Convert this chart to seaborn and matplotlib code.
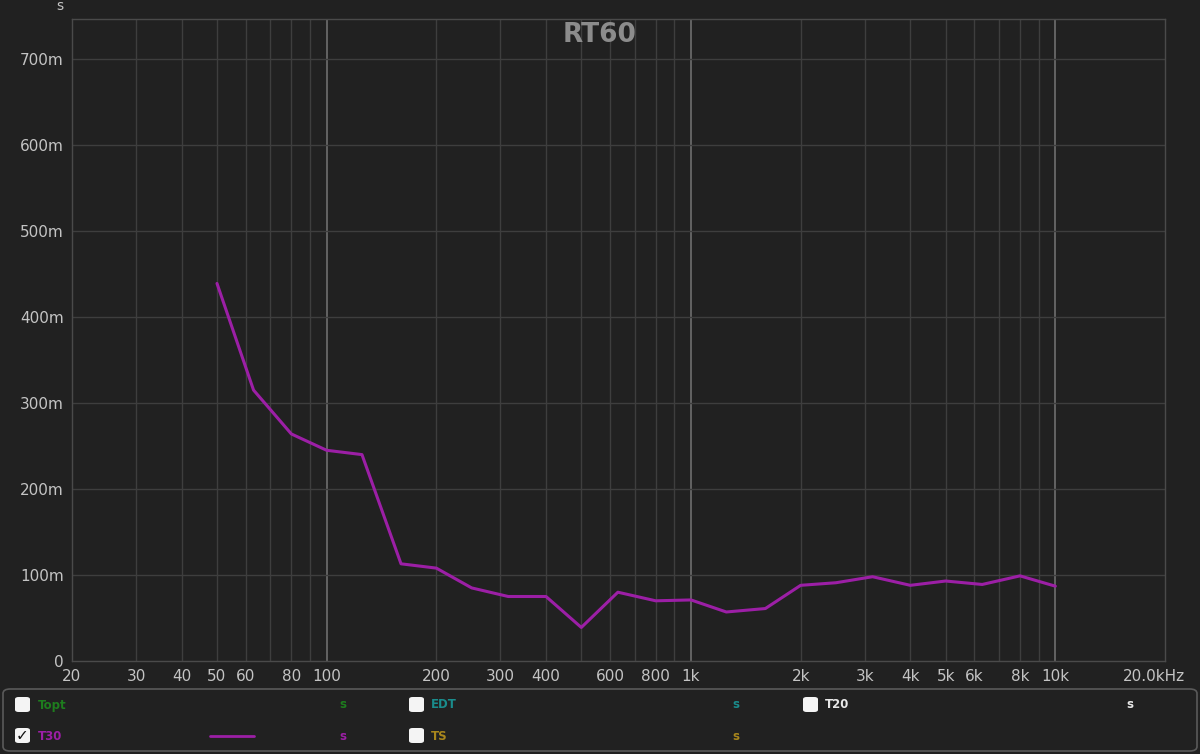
import numpy as np
import pandas as pd
import seaborn as sns
import matplotlib.pyplot as plt
import matplotlib.transforms as mtransforms
from matplotlib.patches import FancyBboxPatch
from matplotlib.lines import Line2D

# 1/3 octave bands and T30 (seconds)
freqs = [50, 63, 80, 100, 125, 160, 200, 250, 315, 400, 500, 630, 800,
         1000, 1250, 1600, 2000, 2500, 3150, 4000, 5000, 6300, 8000, 10000]
t30 = [0.439, 0.315, 0.264, 0.245, 0.240, 0.113, 0.108, 0.085, 0.075, 0.075,
       0.039, 0.080, 0.070, 0.071, 0.057, 0.061, 0.088, 0.091, 0.098, 0.088,
       0.093, 0.089, 0.099, 0.087]

x_ticks = [20, 30, 40, 50, 60, 80, 100, 200, 300, 400, 600, 800,
           1000, 2000, 3000, 4000, 5000, 6000, 8000, 10000, 20000]
x_labels = ["20", "30", "40", "50", "60", "80", "100", "200", "300", "400", "600", "800",
            "1k", "2k", "3k", "4k", "5k", "6k", "8k", "10k", "20.0kHz"]
y_ticks = [0, 0.1, 0.2, 0.3, 0.4, 0.5, 0.6, 0.7]
y_labels = ["0", "100m", "200m", "300m", "400m", "500m", "600m", "700m"]

# legend rows: (name, colour, checked)
legend_items = [("Topt", "#1e7d1e", False), ("EDT", "#1a8c8c", False), ("T20", "#e8e8e8", False),
                ("T30", "#9c1fa6", True), ("TS", "#a8861c", False)]

bg = "#212121"
grid_c = "#3e3e3e"
major_c = "#6e6e6e"
text_c = "#c4c4c4"
line_c = "#9c1fa6"

sns.set_theme(style="dark")
plt.rcParams["font.family"] = ["DejaVu Sans"]

fig = plt.figure(figsize=(12, 7.54), dpi=100, facecolor=bg)
ax = fig.add_axes([72 / 1200, 1 - 661 / 754, (1165 - 72) / 1200, (661 - 19) / 754])
ax.set_facecolor(bg)
ax.set_xscale("log")

df = pd.DataFrame({"freq": freqs, "t30": t30})
sns.lineplot(data=df, x="freq", y="t30", ax=ax, color=line_c, linewidth=2.2)

ax.set_xlim(20, 20000)
ax.set_ylim(0, 0.7465)

# grid: minor lines everywhere, brighter at decades
minor = [m * d for d in (10, 100, 1000) for m in range(2, 10) if 20 <= m * d <= 20000 and m * d != 20]
for f in minor:
    ax.axvline(f, color=grid_c, lw=1.0, zorder=0)
for f in (100, 1000, 10000):
    ax.axvline(f, color=major_c, lw=1.2, zorder=0)
for y in y_ticks[1:]:
    ax.axhline(y, color=grid_c, lw=1.0, zorder=0)

ax.set_xticks(x_ticks)
ax.set_xticklabels(x_labels)
ax.set_yticks(y_ticks)
ax.set_yticklabels(y_labels)
ax.minorticks_off()
ax.tick_params(axis="both", length=0, colors=text_c, labelsize=11)
ax.tick_params(axis="x", pad=6)
ax.tick_params(axis="y", pad=6)
ax.set_xlabel("")
ax.set_ylabel("")
for s in ax.spines.values():
    s.set_visible(True)
    s.set_color("#4a4a4a")
    s.set_linewidth(1.0)

# last x label sits a bit left of its tick so it stays in the figure
last = ax.get_xticklabels()[-1]
last.set_transform(last.get_transform() + mtransforms.ScaledTranslation(-0.11, 0, fig.dpi_scale_trans))


def fx(px):
    return px / 1200


def fy(py):
    return 1 - py / 754


fig.text(fx(600), fy(35), "RT60", ha="center", va="center",
         fontsize=19, fontweight="bold", color="#8c8c8c")
fig.text(fx(60), fy(6), "s", ha="center", va="center", fontsize=10, color=text_c)

# legend panel at the bottom
panel = FancyBboxPatch((fx(3), fy(751)), fx(1194), (751 - 689) / 754,
                       boxstyle="round,pad=0,rounding_size=0.006",
                       transform=fig.transFigure, facecolor=bg, edgecolor="#5a5a5a", lw=1.2)
fig.patches.append(panel)

cols = [(22, 38, 343), (416, 431, 736), (810, 825, 1130)]
slots = [(0, 0), (0, 1), (0, 2), (1, 0), (1, 1)]
rows_y = [705, 736]
for (name, color, checked), (r, c) in zip(legend_items, slots):
    bx, tx, sx = cols[c]
    yy = rows_y[r]
    box = FancyBboxPatch((fx(bx - 7), fy(yy + 7)), fx(15), 15 / 754,
                         boxstyle="round,pad=0,rounding_size=0.003",
                         transform=fig.transFigure, facecolor="#f4f4f4", edgecolor="none")
    fig.patches.append(box)
    if checked:
        fig.text(fx(bx + 0.5), fy(yy), "\u2713", ha="center", va="center",
                 fontsize=11, fontweight="bold", color="#111111")
    fig.text(fx(tx), fy(yy), name, ha="left", va="center", fontsize=8.5,
             fontweight="bold", color=color)
    fig.text(fx(sx), fy(yy), "s", ha="center", va="center", fontsize=8.5,
             fontweight="bold", color=color)
    if checked:
        fig.lines.append(Line2D([fx(210), fx(254)], [fy(yy), fy(yy)],
                                transform=fig.transFigure, color=color, lw=2.0))

fig.savefig("out.png", dpi=100, facecolor=bg)
